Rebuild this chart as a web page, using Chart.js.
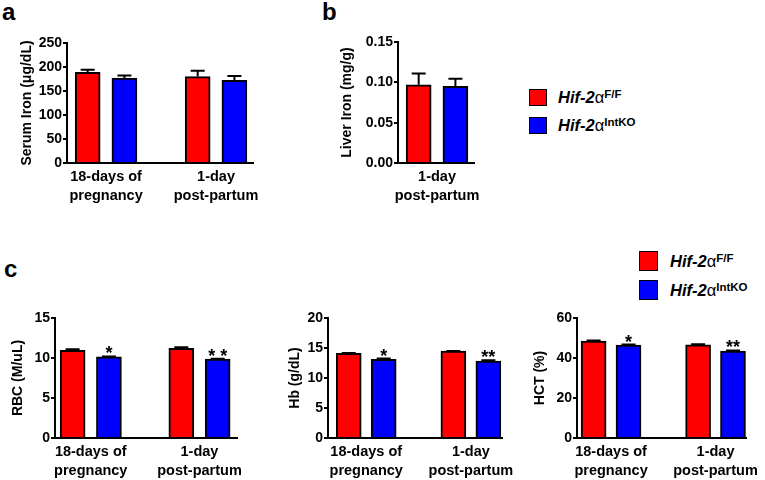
<!DOCTYPE html>
<html>
<head>
<meta charset="utf-8">
<script src="https://cdn.jsdelivr.net/npm/chart.js@4"></script>
<style>
  body { margin: 0; width: 765px; height: 480px; position: relative; background: #fff; overflow: hidden;
         font-family: "Liberation Sans", Arial, Helvetica, sans-serif; }
  canvas { position: absolute; }
  .panel { position: absolute; font-weight: bold; font-size: 24px; line-height: 24px; }
  .sw { position: absolute; border: 1.5px solid #000; box-sizing: border-box; }
  .lt { position: absolute; font-size: 16.5px; font-weight: bold; white-space: nowrap; }
  .lt i { font-style: italic; }
  .lt .al { font-weight: normal; }
  .lt sup { font-size: 11.5px; vertical-align: 5px; line-height: 0; }
</style>
</head>
<body>

<div class="panel" style="left:2px;top:0px">a</div>
<div class="panel" style="left:322px;top:0px">b</div>
<div class="panel" style="left:4px;top:257px">c</div>

<canvas id="serum" width="290" height="200" style="left:0px;top:20px"></canvas>
<canvas id="liver" width="200" height="200" style="left:300px;top:20px"></canvas>
<canvas id="rbc" width="265" height="180" style="left:0px;top:300px"></canvas>
<canvas id="hb" width="250" height="180" style="left:270px;top:300px"></canvas>
<canvas id="hct" width="245" height="180" style="left:520px;top:300px"></canvas>

<!-- legend, top -->
<div class="sw" style="left:529px;top:89px;width:18px;height:17px;background:#ff0000"></div>
<div class="lt" style="left:558px;top:89px;line-height:17px"><i>Hif-2</i><span class="al">α</span><sup>F/F</sup></div>
<div class="sw" style="left:529px;top:117px;width:18px;height:17px;background:#0000ff"></div>
<div class="lt" style="left:558px;top:117px;line-height:17px"><i>Hif-2</i><span class="al">α</span><sup>IntKO</sup></div>

<!-- legend, panel c -->
<div class="sw" style="left:639px;top:251px;width:19px;height:20px;background:#ff0000"></div>
<div class="lt" style="left:670px;top:251px;line-height:20px"><i>Hif-2</i><span class="al">α</span><sup>F/F</sup></div>
<div class="sw" style="left:639px;top:280px;width:19px;height:20px;background:#0000ff"></div>
<div class="lt" style="left:670px;top:280px;line-height:20px"><i>Hif-2</i><span class="al">α</span><sup>IntKO</sup></div>

<script>
// categories
var groups = [['18-days of', 'pregnancy'], ['1-day', 'post-partum']];
var liverGroups = [['1-day', 'post-partum']];

// a: serum iron (ug/dL)
var serumFF = [189, 180], serumFFErr = [5.5, 12];
var serumKO = [177, 172], serumKOErr = [5.5, 9];
var serumTicks = [0, 50, 100, 150, 200, 250];

// b: liver iron (mg/g)
var liverFF = [0.097], liverFFErr = [0.014];
var liverKO = [0.095], liverKOErr = [0.0095];
var liverTicks = [0, 0.05, 0.10, 0.15];

// c: RBC, Hb, HCT
var rbcFF = [10.95, 11.2], rbcFFErr = [0.15, 0.15];
var rbcKO = [10.15, 9.85], rbcKOErr = [0.05, 0.05];
var rbcStars = ['*', '* *'];
var rbcTicks = [0, 5, 10, 15];

var hbFF = [14.1, 14.47], hbFFErr = [0.05, 0.05];
var hbKO = [13.1, 12.8], hbKOErr = [0.15, 0.15];
var hbStars = ['*', '**'];
var hbTicks = [0, 5, 10, 15, 20];

var hctFF = [48.4, 46.6], hctFFErr = [0.3, 0.3];
var hctKO = [46.4, 43.4], hctKOErr = [0.3, 0.4];
var hctStars = ['*', '**'];
var hctTicks = [0, 20, 40, 60];

var FONT = '"Liberation Sans", Arial, Helvetica, sans-serif';
Chart.defaults.font.family = FONT;
Chart.defaults.color = '#000';

// upper error bars + significance marks
var errPlugin = {
  id: 'errbars',
  afterDatasetsDraw: function(chart) {
    var ctx = chart.ctx, y = chart.scales.y;
    chart.data.datasets.forEach(function(ds, di) {
      var meta = chart.getDatasetMeta(di);
      meta.data.forEach(function(bar, i) {
        var top = y.getPixelForValue(ds.data[i].y + ds.err[i]);
        ctx.save();
        ctx.strokeStyle = '#000';
        ctx.lineWidth = 2;
        ctx.beginPath();
        ctx.moveTo(bar.x, bar.y);
        ctx.lineTo(bar.x, top);
        ctx.moveTo(bar.x - 7, top);
        ctx.lineTo(bar.x + 7, top);
        ctx.stroke();
        if (ds.stars && ds.stars[i]) {
          ctx.fillStyle = '#000';
          ctx.font = 'bold 18px ' + FONT;
          ctx.textAlign = 'center';
          ctx.textBaseline = 'alphabetic';
          ctx.fillText(ds.stars[i], bar.x, top + 3);
        }
        ctx.restore();
      });
    });
  }
};

function barChart(id, o) {
  var off = 0.167;
  return new Chart(document.getElementById(id), {
    type: 'bar',
    data: {
      datasets: [{
        data: o.ff.map(function(v, i) { return { x: i - off, y: v }; }),
        err: o.ffErr,
        backgroundColor: '#ff0000'
      }, {
        data: o.ko.map(function(v, i) { return { x: i + off, y: v }; }),
        err: o.koErr,
        stars: o.stars,
        backgroundColor: '#0000ff'
      }]
    },
    options: {
      responsive: false,
      animation: false,
      layout: { padding: { left: 0, top: o.padTop, right: o.padRight, bottom: 0 } },
      plugins: { legend: { display: false }, tooltip: { enabled: false } },
      datasets: { bar: { grouped: false, barThickness: 25, borderColor: '#000', borderWidth: 2 } },
      scales: {
        x: {
          type: 'linear', min: o.xMin, max: o.xMax, offset: false,
          grid: { display: false, drawTicks: false },
          border: { color: '#000', width: 2 },
          afterBuildTicks: function(s) { s.ticks = o.groups.map(function(g, i) { return { value: i }; }); },
          afterFit: function(s) { s.height = o.xHeight; },
          ticks: {
            autoSkip: false, maxRotation: 0, padding: 5,
            font: { size: 14.5, weight: 'bold', lineHeight: 1.3 },
            callback: function(v) { return o.groups[Math.round(v)]; }
          }
        },
        y: {
          min: 0, max: o.ticks[o.ticks.length - 1],
          grid: { drawOnChartArea: false, drawTicks: true, tickLength: 4, color: '#000', lineWidth: 2 },
          border: { color: '#000', width: 2 },
          afterBuildTicks: function(s) { s.ticks = o.ticks.map(function(v) { return { value: v }; }); },
          afterFit: function(s) { s.width = o.yWidth; },
          ticks: {
            padding: 1,
            font: { size: 14, weight: 'bold' },
            callback: function(v) { return o.dec ? v.toFixed(o.dec) : v; }
          },
          title: {
            display: true, text: o.title,
            font: { size: 14, weight: 'bold' },
            padding: { top: o.titlePad, bottom: 0 }
          }
        }
      }
    },
    plugins: [errPlugin]
  });
}

barChart('serum', {
  groups: groups, ff: serumFF, ffErr: serumFFErr, ko: serumKO, koErr: serumKOErr,
  ticks: serumTicks, title: 'Serum Iron (μg/dL)',
  xMin: -0.355, xMax: 1.336, yWidth: 67, padTop: 23, padRight: 37, xHeight: 57, titlePad: 19
});
barChart('liver', {
  groups: liverGroups, ff: liverFF, ffErr: liverFFErr, ko: liverKO, koErr: liverKOErr,
  ticks: liverTicks, title: 'Liver Iron (mg/g)', dec: 2,
  xMin: -0.355, xMax: 0.336, yWidth: 98, padTop: 22, padRight: 26, xHeight: 57, titlePad: 39
});
barChart('rbc', {
  groups: groups, ff: rbcFF, ffErr: rbcFFErr, ko: rbcKO, koErr: rbcKOErr, stars: rbcStars,
  ticks: rbcTicks, title: 'RBC (M/uL)',
  xMin: -0.329, xMax: 1.345, yWidth: 55, padTop: 18, padRight: 28, xHeight: 42, titlePad: 10
});
barChart('hb', {
  groups: groups, ff: hbFF, ffErr: hbFFErr, ko: hbKO, koErr: hbKOErr, stars: hbStars,
  ticks: hbTicks, title: 'Hb (g/dL)',
  xMin: -0.365, xMax: 1.305, yWidth: 58, padTop: 18, padRight: 10, xHeight: 42, titlePad: 17
});
barChart('hct', {
  groups: groups, ff: hctFF, ffErr: hctFFErr, ko: hctKO, koErr: hctKOErr, stars: hctStars,
  ticks: hctTicks, title: 'HCT (%)',
  xMin: -0.326, xMax: 1.292, yWidth: 57, padTop: 18, padRight: 12, xHeight: 42, titlePad: 12
});
</script>
</body>
</html>
